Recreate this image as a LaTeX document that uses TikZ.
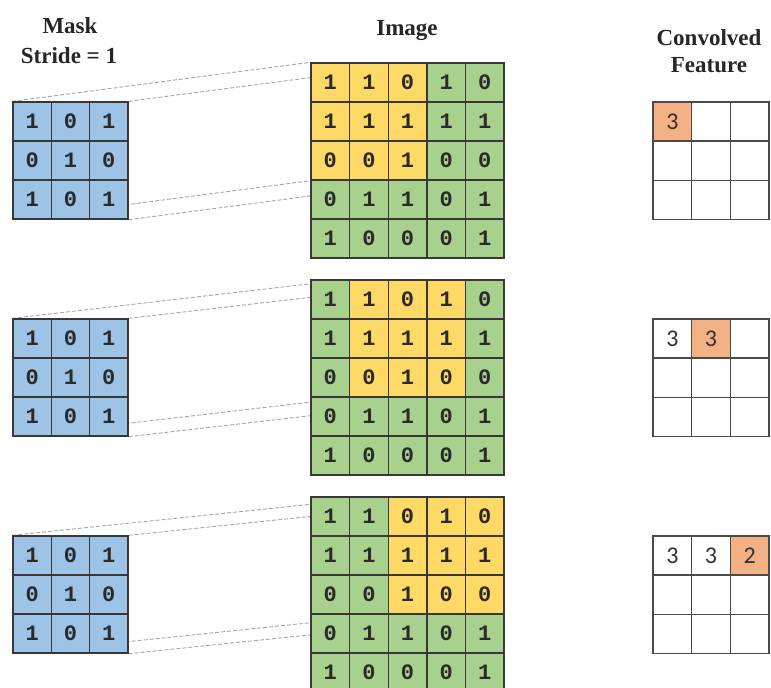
\documentclass[tikz,border=0pt]{standalone}
\usepackage{fontspec}
\setmainfont{Liberation Serif}
\newfontfamily\digitfont{Liberation Mono}
\newfontfamily\outfont{Carlito}
\pgfdeclarelayer{background}
\pgfsetlayers{background,main}

\definecolor{gridline}{HTML}{383838}
\definecolor{outline}{HTML}{4A4A4A}
\definecolor{digit}{HTML}{2A2A2A}
\definecolor{maskblue}{HTML}{9DC3E6}
\definecolor{winyellow}{HTML}{FFD966}
\definecolor{imggreen}{HTML}{A9D18E}
\definecolor{outorange}{HTML}{F4B183}
\definecolor{guidegray}{HTML}{A6A6A6}

\tikzset{
  cell/.style={draw=gridline, line width=1.4pt, minimum height=39pt,
    inner sep=0pt, text=digit, font=\fontsize{22}{22}\digitfont\bfseries},
  maskcell/.style={cell, fill=maskblue, minimum width=38.3pt},
  hot/.style={cell, fill=winyellow, minimum width=38.6pt},
  cold/.style={cell, fill=imggreen, minimum width=38.6pt},
  outcell/.style={cell, draw=outline, fill=white, minimum width=38.7pt,
    text=black!80, font=\fontsize{24}{24}\outfont},
  outhot/.style={outcell, fill=outorange},
  guide/.style={draw=guidegray, line width=0.9pt, dash pattern=on 4pt off 2pt},
  header/.style={anchor=base, font=\fontsize{23}{23}\selectfont\bfseries, text=black!85}
}

\begin{document}
\begin{tikzpicture}[x=1pt, y=-1pt]
  \useasboundingbox (0,0) rectangle (771,688);

  % column headers
  \node[header] (maskhead) at (70,33) {Mask};
  \node[header] (stridehead) at (69,63) {Stride = 1};
  \node[header] (imagehead) at (407,35) {Image};
  \node[header] (convhead) at (709,45) {Convolved};
  \node[header] (feathead) at (709,72) {Feature};

  % three stride steps, one per row of panels
  \foreach \p/\yo in {1/102, 2/319, 3/536} {
    \pgfmathtruncatemacro{\pe}{\p+2}
    \pgfmathsetmacro{\yi}{\yo-39}

    % 3x3 mask
    \foreach \r in {1,2,3} {
      \foreach \c in {1,2,3} {
        \pgfmathtruncatemacro{\v}{mod(\r+\c+1,2)}
        \node[maskcell] (m\p-\r-\c) at ({13+38.33*(\c-0.5)}, {\yo+39*(\r-0.5)}) {\v};
      }
    }

    % 5x5 image with the current 3x3 window
    \foreach \r/\row in {1/{1,1,0,1,0}, 2/{1,1,1,1,1}, 3/{0,0,1,0,0},
                          4/{0,1,1,0,1}, 5/{1,0,0,0,1}} {
      \foreach \v [count=\c] in \row {
        \pgfmathtruncatemacro{\inwin}{(\r<4)&&(\c>=\p)&&(\c<=\pe)}
        \ifnum\inwin=1 \tikzset{cur/.style={hot}}\else\tikzset{cur/.style={cold}}\fi
        \node[cur] (i\p-\r-\c) at ({311+38.6*(\c-0.5)}, {\yi+39*(\r-0.5)}) {\v};
      }
    }

    % 3x3 convolved feature, filled up to the current step
    \foreach \r in {1,2,3} {
      \foreach \c/\o in {1/3, 2/3, 3/2} {
        \pgfmathtruncatemacro{\shown}{(\r==1)&&(\c<=\p)}
        \pgfmathtruncatemacro{\now}{(\r==1)&&(\c==\p)}
        \ifnum\now=1 \tikzset{cur/.style={outhot}}\else\tikzset{cur/.style={outcell}}\fi
        \node[cur] (o\p-\r-\c) at ({653+38.7*(\c-0.5)}, {\yo+39.2*(\r-0.5)})
          {\ifnum\shown=1 \o\fi};
      }
    }

    % projection lines from the mask corners to the window corners
    \begin{pgfonlayer}{background}
      \draw[guide] (m\p-1-1.north west) -- (i\p-1-\p.north west);
      \draw[guide] (m\p-1-3.north east) -- (i\p-1-\pe.north east);
      \draw[guide] (m\p-3-1.south west) -- (i\p-3-\p.south west);
      \draw[guide] (m\p-3-3.south east) -- (i\p-3-\pe.south east);
    \end{pgfonlayer}
  }
\end{tikzpicture}
\end{document}
